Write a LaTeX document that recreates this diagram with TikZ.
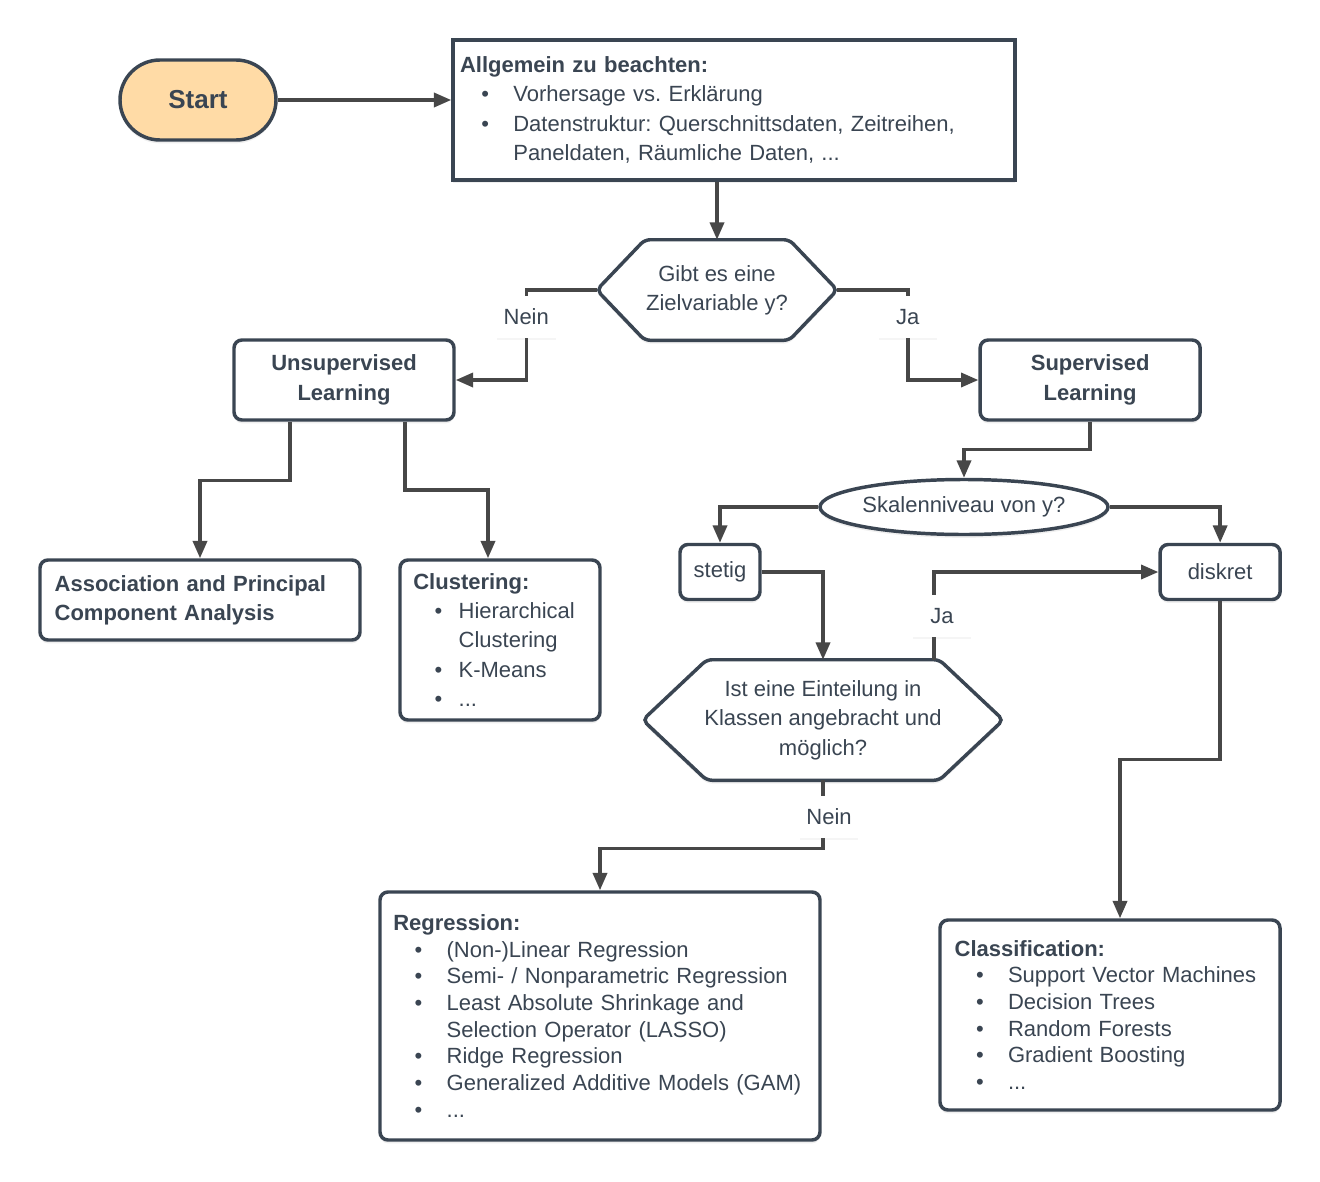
\documentclass[tikz,border=0pt]{standalone}
\usepackage{fontspec}
\setmainfont{Liberation Sans}
\usetikzlibrary{positioning,calc,arrows.meta,shapes.geometric,shadows,backgrounds}
\frenchspacing

\definecolor{boxline}{HTML}{3A4552}
\definecolor{arrowline}{HTML}{474747}
\definecolor{startfill}{HTML}{FFDBA6}

% bullet line and its continuation
\newcommand{\bitem}[2][40pt]{\makebox[#1][l]{\hspace{16pt}\textbullet}#2}
\newcommand{\bcont}[2][40pt]{\hspace*{#1}#2}

\begin{document}
\begin{tikzpicture}[x=0.75pt, y=-0.75pt,
    every node/.style={text=boxline, font=\fontsize{16.5}{22}\selectfont},
    softshadow/.style={drop shadow={opacity=0.13, shadow xshift=0pt, shadow yshift=-2.5pt}},
    startnode/.style={rectangle, rounded corners=30pt, draw=boxline, line width=2.6pt, fill=startfill,
        minimum width=117pt, minimum height=60pt, font=\fontsize{19.5}{24}\selectfont\bfseries, softshadow},
    squarebox/.style={rectangle, draw=boxline, line width=2.6pt, fill=white, softshadow},
    roundbox/.style={squarebox, rounded corners=6pt, align=center},
    listbox/.style={squarebox, rounded corners=6pt, align=left},
    decision/.style={ellipse, draw=boxline, line width=2.6pt, fill=white, inner sep=0pt, softshadow},
    hexnode/.style={inner sep=0pt, align=center},
    hexline/.style={draw=boxline, line width=2.6pt, fill=white, rounded corners=4pt, softshadow},
    conn/.style={draw=arrowline, line width=2.6pt, -{Triangle[length=13pt, width=10.5pt]}},
    lbl/.style={fill=white, inner sep=0pt, minimum width=44pt, minimum height=31pt,
        drop shadow={opacity=0.08, shadow xshift=0pt, shadow yshift=-1.5pt}},
  ]
    \useasboundingbox (0,0) rectangle (1320,1181);

    %Nodes
    \node[startnode] (start) at (198,100) {Start};
    \node[squarebox, minimum width=421.5pt, minimum height=105pt, inner xsep=5pt, text width=411pt, align=left]
        (general) at (734,110)
        {\textbf{Allgemein zu beachten:}\\
         \bitem{Vorhersage vs. Erklärung}\\
         \bitem{Datenstruktur: Querschnittsdaten, Zeitreihen,}\\
         \bcont{Paneldaten, Räumliche Daten, ...}};
    \node[hexnode, minimum width=180pt, minimum height=75pt] (target) at (717,290) {Gibt es eine\\Zielvariable y?};
    \node[roundbox, minimum width=165pt, minimum height=60pt, font=\fontsize{16.5}{22}\selectfont\bfseries]
        (unsup) at (344,380) {Unsupervised\\Learning};
    \node[roundbox, minimum width=165pt, minimum height=60pt, font=\fontsize{16.5}{22}\selectfont\bfseries]
        (sup) [right=392pt of unsup] {Supervised\\Learning};
    \node[listbox, minimum width=240pt, minimum height=60pt, inner xsep=11pt, text width=218pt,
        font=\fontsize{16.5}{22}\selectfont\bfseries]
        (assoc) at (200,600) {Association and Principal\\Component Analysis};
    \node[listbox, minimum width=150pt, minimum height=120pt, inner xsep=10pt, text width=130pt]
        (clust) at (500,640)
        {\textbf{Clustering:}\\
         \bitem[34pt]{Hierarchical}\\
         \bcont[34pt]{Clustering}\\
         \bitem[34pt]{K-Means}\\
         \bitem[34pt]{...}};
    \node[decision, minimum width=216pt, minimum height=41.25pt] (scale) at (964,507) {Skalenniveau von y?};
    \node[roundbox, minimum width=60pt, minimum height=41.25pt] (stetig) at (720,572) {stetig};
    \node[roundbox, minimum width=90pt, minimum height=41.25pt] (diskret) [right=297.5pt of stetig] {diskret};
    \node[hexnode, minimum width=270pt, minimum height=90pt] (classes) at (823,720)
        {Ist eine Einteilung in\\Klassen angebracht und\\möglich?};
    \node[listbox, minimum width=330pt, minimum height=186pt, inner xsep=10pt, text width=310pt,
        font=\fontsize{16.5}{20}\selectfont]
        (regr) at (600,1016)
        {\textbf{Regression:}\\
         \bitem{(Non-)Linear Regression}\\
         \bitem{Semi- / Nonparametric Regression}\\
         \bitem{Least Absolute Shrinkage and}\\
         \bcont{Selection Operator (LASSO)}\\
         \bitem{Ridge Regression}\\
         \bitem{Generalized Additive Models (GAM)}\\
         \bitem{...}};
    \node[listbox, minimum width=255pt, minimum height=142.5pt, inner xsep=11pt, text width=233pt,
        font=\fontsize{16.5}{20}\selectfont]
        (classif) at (1110,1015)
        {\textbf{Classification:}\\
         \bitem{Support Vector Machines}\\
         \bitem{Decision Trees}\\
         \bitem{Random Forests}\\
         \bitem{Gradient Boosting}\\
         \bitem{...}};

    %Hexagons
    \begin{scope}[on background layer]
      \draw[hexline] (target.west) -- ([xshift=36pt]target.north west) -- ([xshift=-36pt]target.north east)
          -- (target.east) -- ([xshift=-36pt]target.south east) -- ([xshift=36pt]target.south west) -- cycle;
      \draw[hexline] (classes.west) -- ([xshift=48pt]classes.north west) -- ([xshift=-48pt]classes.north east)
          -- (classes.east) -- ([xshift=-48pt]classes.south east) -- ([xshift=48pt]classes.south west) -- cycle;
    \end{scope}
    \coordinate (classesne) at ([xshift=-52pt]classes.north east);

    %Lines
    \draw[conn] (start.east) -- (start.east -| general.west);
    \draw[conn] (general.south -| target.north) -- (target.north);
    \draw[conn] (target.west) -| node[lbl, pos=0.8] {Nein} ($(target.west)!.5!(unsup.east)$) |- (unsup.east);
    \draw[conn] (target.east) -| node[lbl, pos=0.8] {Ja} ($(target.east)!.5!(sup.west)$) |- (sup.west);
    \draw[conn] ([xshift=-40.5pt]unsup.south) |- ($(unsup.south)!.43!(assoc.north)$) -| (assoc.north);
    \draw[conn] ([xshift=45.75pt]unsup.south) |- ($(unsup.south)!.5!(clust.north)$) -| ([xshift=-9pt]clust.north);
    \draw[conn] (sup.south) |- ($(sup.south)!.5!(scale.north)$) -| (scale.north);
    \draw[conn] (scale.west) -| (stetig.north);
    \draw[conn] (scale.east) -| (diskret.north);
    \draw[conn] (stetig.east) -| (classes.north);
    \draw[conn] (classesne) |- node[lbl, pos=0.25, xshift=6pt] {Ja} (diskret.west);
    \draw[conn] (classes.south) |- node[lbl, pos=0.27, xshift=4.5pt] {Nein} ($(classes.south)!.62!(regr.north)$) -| (regr.north);
    \draw[conn] (diskret.south) |- ($(diskret.south)!.5!(classif.north)$) -| ([xshift=7.5pt]classif.north);
\end{tikzpicture}
\end{document}
